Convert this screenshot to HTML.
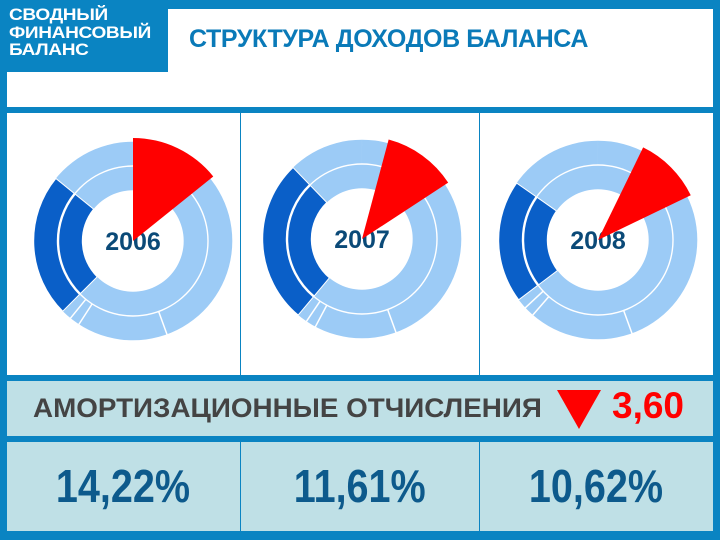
<!DOCTYPE html>
<html><head><meta charset="utf-8"><style>
body{margin:0;width:720px;height:540px;overflow:hidden;background:#0a84c2;font-family:"Liberation Sans",sans-serif;position:relative}
div{position:absolute}
</style></head><body>
<div style="left:7px;top:9px;width:706px;height:98px;background:#fff"></div>
<div style="left:0;top:0;width:168px;height:72px;background:#0a84c2"></div>
<div style="left:9px;top:6px;color:#fff;font-weight:bold;font-size:17px;line-height:17.5px;transform:scaleX(1.12);transform-origin:left;letter-spacing:-0.3px">СВОДНЫЙ<br>ФИНАНСОВЫЙ<br>БАЛАНС</div>
<div style="left:189px;top:25px;color:#0a7ab8;font-weight:bold;font-size:25px;letter-spacing:-0.4px">СТРУКТУРА ДОХОДОВ БАЛАНСА</div>
<svg style="position:absolute;left:0;top:0" width="720" height="540" id="chart"></svg>
<div style="left:7px;top:381px;width:706px;height:55px;background:#bfe0e6"></div>
<div style="left:33px;top:393px;font-size:27px;font-weight:bold;color:#444;transform:scaleX(1.03);transform-origin:left;white-space:nowrap">АМОРТИЗАЦИОННЫЕ ОТЧИСЛЕНИЯ</div>
<svg style="position:absolute;left:557px;top:390px" width="44" height="40"><polygon points="0,0 44,0 22,39" fill="#f00"/></svg>
<div style="left:612px;top:385px;font-size:37px;font-weight:bold;color:#f00">3,60</div>
<div style="left:7px;top:442px;width:233px;height:89px;background:#bfe0e6;text-align:center;line-height:89px;font-size:46px;font-weight:bold;color:#0d5a8c"><span style="display:inline-block;transform:scaleX(0.86)">14,22%</span></div>
<div style="left:241px;top:442px;width:238px;height:89px;background:#bfe0e6;text-align:center;line-height:89px;font-size:46px;font-weight:bold;color:#0d5a8c"><span style="display:inline-block;transform:scaleX(0.86)">11,61%</span></div>
<div style="left:480px;top:442px;width:233px;height:89px;background:#bfe0e6;text-align:center;line-height:89px;font-size:46px;font-weight:bold;color:#0d5a8c"><span style="display:inline-block;transform:scaleX(0.86)">10,62%</span></div>
<script>
const years=["2006","2007","2008"];
const redShare=[14.22,11.61,10.62];
const redStart=[0,15,26];
const darkStart=[225,220,233];
const darkEnd=[309,316,305];
const NS="http://www.w3.org/2000/svg";
const svg=document.getElementById('chart');
const centers=[[133,241],[362,239],[598,240]];
function pt(cx,cy,r,a){const t=(a-90)*Math.PI/180;return [cx+r*Math.cos(t),cy+r*Math.sin(t)];}
function arc(cx,cy,r0,r1,a0,a1){const l=(a1-a0)>180?1:0;const p1=pt(cx,cy,r1,a0),p2=pt(cx,cy,r1,a1),p3=pt(cx,cy,r0,a1),p4=pt(cx,cy,r0,a0);
return `M${p1}A${r1},${r1} 0 ${l} 1 ${p2}L${p3}A${r0},${r0} 0 ${l} 0 ${p4}Z`;}
function add(tag,at){const e=document.createElementNS(NS,tag);for(const k in at)e.setAttribute(k,at[k]);svg.appendChild(e);return e;}
const panels=[[7,113,233,262],[241,113,238,262],[480,113,233,262]];
panels.forEach((p,i)=>{const r=add('rect',{x:p[0],y:p[1],width:p[2],height:p[3],fill:'#fff'});

});
years.forEach((y,i)=>{const [cx,cy]=centers[i];
const g=document.createElementNS(NS,'g');svg.appendChild(g);


[[75,100],[50,75]].forEach(([a,b])=>{const p=document.createElementNS(NS,'path');p.setAttribute('d',arc(cx,cy,a+0.7,b-0.7,0.01,359.99));p.setAttribute('fill','#9ccbf6');g.appendChild(p);});
[[75,100],[50,75]].forEach(([a,b])=>{const p=document.createElementNS(NS,'path');p.setAttribute('d',arc(cx,cy,a+0.7,b-0.7,darkStart[i],darkEnd[i]));p.setAttribute('fill','#0a5fc8');p.setAttribute('stroke','#fff');p.setAttribute('stroke-width','1');


g.appendChild(p);});
[darkStart[i]-6,darkStart[i]-12,160].forEach(a=>{const s=pt(cx,cy,75,a),e=pt(cx,cy,100,a);const l=document.createElementNS(NS,'line');l.setAttribute('x1',s[0]);l.setAttribute('y1',s[1]);l.setAttribute('x2',e[0]);l.setAttribute('y2',e[1]);l.setAttribute('stroke','#fff');l.setAttribute('stroke-width','1.5');g.appendChild(l);});
const a0=redStart[i],a1=redStart[i]+redShare[i]*3.6;const p1=pt(cx,cy,103,a0),p2=pt(cx,cy,103,a1);
const w=document.createElementNS(NS,'path');w.setAttribute('d',`M${cx},${cy}L${p1}A103,103 0 0 1 ${p2}Z`);w.setAttribute('fill','#f00');


const t=document.createElementNS(NS,'text');t.setAttribute('x',cx);t.setAttribute('y',cy+9);t.setAttribute('text-anchor','middle');t.setAttribute('font-size','25');t.setAttribute('font-weight','bold');t.setAttribute('fill','#0b4a78');t.setAttribute('font-family','Liberation Sans, sans-serif');t.textContent=y;


g.appendChild(t);g.appendChild(w);});
</script>
</body></html>
